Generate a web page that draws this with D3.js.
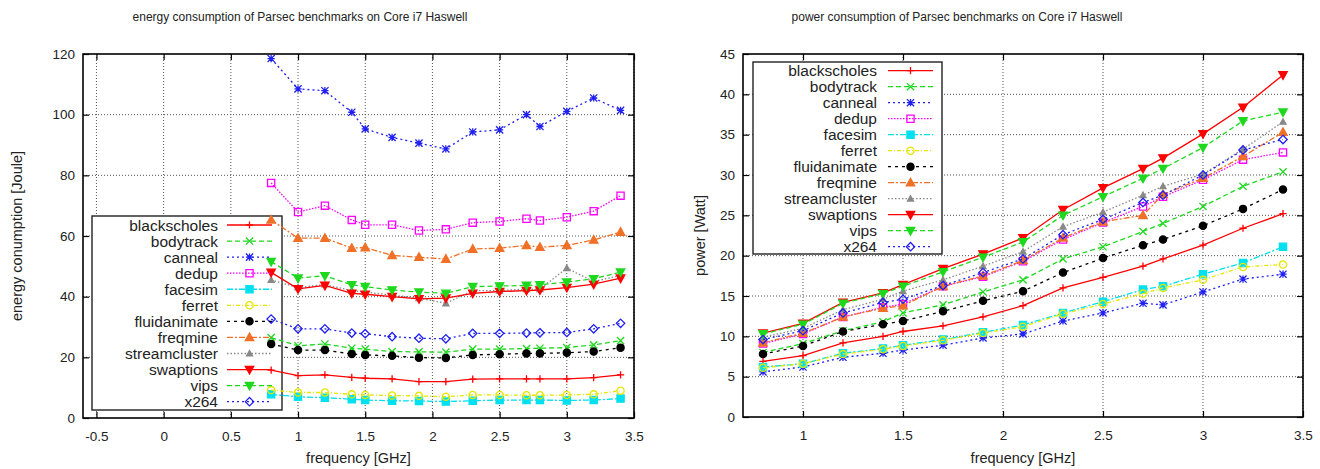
<!DOCTYPE html>
<html>
<head>
<meta charset="utf-8">
<script src="https://cdn.jsdelivr.net/npm/d3@7"></script>
<style>
  body { margin: 0; background: #fff; }
  svg { display: block; font-family: "Liberation Sans", Arial, Helvetica, sans-serif; }
</style>
</head>
<body>
<div class="viewbox"></div>
<script>
// frequencies (GHz) measured for every benchmark
const freqs = [0.8, 1.0, 1.2, 1.4, 1.5, 1.7, 1.9, 2.1, 2.3, 2.5, 2.7, 2.8, 3.0, 3.2, 3.4];
const benchmarks = ["blackscholes", "bodytrack", "canneal", "dedup", "facesim", "ferret",
  "fluidanimate", "freqmine", "streamcluster", "swaptions", "vips", "x264"];

// energy [Joule]
const eBlackscholes = [15.8, 14.0, 14.2, 13.4, 13.1, 12.9, 12.0, 12.0, 12.8, 12.9, 12.9, 12.9, 12.9, 13.3, 14.2];
const eBodytrack = [26.5, 23.8, 24.4, 23.0, 22.7, 21.9, 21.8, 21.7, 22.7, 22.7, 22.9, 23.0, 23.2, 24.1, 25.5];
const eCanneal = [118.5, 108.5, 107.9, 100.8, 95.3, 92.5, 90.6, 88.7, 94.3, 95.0, 100.0, 96.1, 101.1, 105.5, 101.4];
const eDedup = [77.5, 67.9, 70.0, 65.3, 63.7, 63.7, 61.8, 62.2, 64.4, 64.8, 65.7, 65.1, 66.2, 68.2, 73.3];
const eFacesim = [7.8, 7.0, 6.7, 6.2, 5.9, 5.7, 5.6, 5.4, 5.7, 5.9, 5.9, 5.9, 5.8, 5.9, 6.4];
const eFerret = [9.2, 8.4, 8.4, 7.8, 7.6, 7.4, 7.3, 7.0, 7.6, 7.6, 7.5, 7.5, 7.6, 7.8, 9.0];
const eFluidanimate = [24.4, 22.4, 22.4, 21.1, 20.8, 20.5, 19.9, 19.8, 20.8, 21.0, 21.3, 21.3, 21.5, 21.9, 23.2];
const eFreqmine = [65.3, 59.3, 59.3, 56.0, 56.2, 53.6, 53.0, 52.4, 55.7, 56.0, 56.9, 56.3, 56.9, 58.7, 61.3];
const eStreamcluster = [45.5, 43.0, 44.0, 42.0, 41.5, 40.5, 39.5, 37.8, 42.0, 42.0, 42.5, 42.5, 49.4, 45.0, 47.0];
const eSwaptions = [48.0, 42.6, 43.7, 41.1, 40.8, 40.0, 39.3, 39.5, 41.1, 41.7, 42.0, 42.2, 43.0, 44.1, 46.1];
const eVips = [51.6, 46.1, 46.9, 43.9, 43.3, 42.2, 41.5, 41.1, 43.3, 43.5, 43.7, 43.9, 44.8, 45.9, 48.1];
const eX264 = [32.6, 29.4, 29.4, 28.0, 27.8, 26.8, 26.3, 26.1, 27.9, 27.9, 28.0, 28.1, 28.2, 29.4, 31.2];

// power [Watt]
const pBlackscholes = [6.9, 7.6, 9.2, 10.0, 10.6, 11.3, 12.4, 13.8, 16.0, 17.3, 18.7, 19.6, 21.3, 23.4, 25.2];
const pBodytrack = [8.0, 9.1, 10.7, 11.8, 12.9, 13.9, 15.5, 17.0, 19.6, 21.1, 23.0, 24.0, 26.1, 28.6, 30.4];
const pCanneal = [5.6, 6.2, 7.4, 7.9, 8.3, 8.9, 9.8, 10.3, 11.9, 12.9, 14.1, 13.9, 15.5, 17.1, 17.7];
const pDedup = [9.1, 10.3, 12.4, 13.6, 14.0, 16.2, 17.4, 19.3, 22.0, 24.1, 26.1, 27.3, 29.4, 31.9, 32.8];
const pFacesim = [6.2, 6.6, 7.9, 8.5, 8.9, 9.6, 10.5, 11.4, 12.9, 14.3, 15.8, 16.2, 17.7, 19.1, 21.1];
const pFerret = [6.1, 6.6, 7.8, 8.4, 8.8, 9.5, 10.4, 11.2, 12.8, 14.0, 15.3, 16.0, 17.0, 18.6, 18.9];
const pFluidanimate = [7.8, 8.8, 10.6, 11.5, 11.9, 13.1, 14.4, 15.6, 17.9, 19.7, 21.3, 22.0, 23.7, 25.8, 28.2];
const pFreqmine = [9.2, 10.4, 12.4, 13.5, 13.8, 16.2, 17.5, 19.4, 22.2, 24.2, 25.0, 27.6, 29.6, 32.3, 35.3];
const pStreamcluster = [9.9, 11.0, 13.3, 14.6, 15.6, 17.0, 18.7, 20.5, 23.6, 25.4, 27.5, 28.6, 30.1, 33.2, 36.6];
const pSwaptions = [10.4, 11.6, 14.2, 15.4, 16.4, 18.4, 20.2, 22.2, 25.7, 28.4, 30.8, 32.1, 35.1, 38.4, 42.4];
const pVips = [10.3, 11.5, 14.1, 15.3, 16.2, 18.0, 19.8, 21.7, 25.0, 27.3, 29.6, 30.8, 33.4, 36.7, 37.8];
const pX264 = [9.6, 10.7, 12.9, 14.2, 14.6, 16.3, 17.9, 19.6, 22.6, 24.5, 26.6, 27.5, 30.0, 33.1, 34.4];

const energyTicks = [0, 20, 40, 60, 80, 100, 120];
const powerTicks = [0, 5, 10, 15, 20, 25, 30, 35, 40, 45];
const energyFreqTicks = [-0.5, 0, 0.5, 1, 1.5, 2, 2.5, 3, 3.5];
const powerFreqTicks = [1, 1.5, 2, 2.5, 3, 3.5];

const energySeries = [eBlackscholes, eBodytrack, eCanneal, eDedup, eFacesim, eFerret,
  eFluidanimate, eFreqmine, eStreamcluster, eSwaptions, eVips, eX264];
const powerSeries = [pBlackscholes, pBodytrack, pCanneal, pDedup, pFacesim, pFerret,
  pFluidanimate, pFreqmine, pStreamcluster, pSwaptions, pVips, pX264];

// gnuplot-ish line types, one per benchmark
const STYLES = [
  { color: "#ff0000", dash: null, mark: "plus" },
  { color: "#1ed81e", dash: "5,3", mark: "cross" },
  { color: "#2020f0", dash: "2,3", mark: "star" },
  { color: "#ff00ff", dash: "1.5,1.5", mark: "box" },
  { color: "#00e0f0", dash: "6,2,2,2", mark: "fbox" },
  { color: "#e6e600", dash: "4,2,1,2", mark: "circle" },
  { color: "#000000", dash: "3,4", mark: "fcircle" },
  { color: "#f07028", dash: "6,2,2,2", mark: "ftri" },
  { color: "#888888", dash: "1.5,2", mark: "stri" },
  { color: "#ff0000", dash: null, mark: "ftridown" },
  { color: "#1ed81e", dash: "5,3", mark: "ftridown" },
  { color: "#2020f0", dash: "2,3", mark: "diamond" }
];

const W = 1320, H = 469;
const svg = d3.select(".viewbox").append("svg").attr("width", W).attr("height", H);

function marker(g, kind, color, x, y) {
  const s = 3.6;
  let p;
  let filled = false;
  if (kind === "plus") p = `M${-s},0H${s}M0,${-s}V${s}`;
  else if (kind === "cross") p = `M${-s},${-s}L${s},${s}M${-s},${s}L${s},${-s}`;
  else if (kind === "star") p = `M${-s},0H${s}M0,${-s}V${s}M${-s},${-s}L${s},${s}M${-s},${s}L${s},${-s}`;
  else if (kind === "box" || kind === "fbox") { p = `M${-s},${-s}H${s}V${s}H${-s}Z`; filled = kind === "fbox"; }
  else if (kind === "circle" || kind === "fcircle") {
    p = d3.symbol(d3.symbolCircle, Math.PI * s * s)(); filled = kind === "fcircle";
  }
  else if (kind === "ftri") { p = `M0,${-s - 0.8}L${s + 0.6},${s - 0.4}L${-s - 0.6},${s - 0.4}Z`; filled = true; }
  else if (kind === "stri") { p = `M0,${-s + 0.6}L${s - 0.6},${s - 1.2}L${-s + 0.6},${s - 1.2}Z`; filled = true; }
  else if (kind === "ftridown") { p = `M0,${s + 0.8}L${s + 0.6},${-s + 0.4}L${-s - 0.6},${-s + 0.4}Z`; filled = true; }
  else if (kind === "diamond") p = `M0,${-s - 0.6}L${s + 0.6},0L0,${s + 0.6}L${-s - 0.6},0Z`;
  g.append("path")
    .attr("d", p)
    .attr("transform", `translate(${x},${y})`)
    .attr("fill", filled ? color : "none")
    .attr("stroke", color)
    .attr("stroke-width", 1.3);
}

function drawPanel(cfg) {
  const g = svg.append("g");
  const x = d3.scaleLinear().domain(cfg.xDomain).range([cfg.left, cfg.right]);
  const y = d3.scaleLinear().domain(cfg.yDomain).range([cfg.bottom, cfg.top]);

  // dotted grid
  const grid = g.append("g").attr("stroke", "#555").attr("stroke-width", 1).attr("stroke-dasharray", "1,2");
  cfg.xTicks.forEach(t => {
    grid.append("line").attr("x1", x(t)).attr("x2", x(t)).attr("y1", cfg.top).attr("y2", cfg.bottom);
  });
  cfg.yTicks.forEach(t => {
    if (t === cfg.yDomain[0] || t === cfg.yDomain[1]) return;
    grid.append("line").attr("x1", cfg.left).attr("x2", cfg.right).attr("y1", y(t)).attr("y2", y(t));
  });

  // axes via d3 (inward ticks, mirrored)
  const fmt = d => String(d);
  const tl = 6;
  g.append("g").attr("transform", `translate(0,${cfg.bottom})`)
    .call(d3.axisBottom(x).tickValues(cfg.xTicks).tickFormat(fmt).tickSizeInner(-tl).tickSizeOuter(0).tickPadding(13));
  g.append("g").attr("transform", `translate(0,${cfg.top})`)
    .call(d3.axisTop(x).tickValues(cfg.xTicks).tickFormat("").tickSizeInner(-tl).tickSizeOuter(0));
  g.append("g").attr("transform", `translate(${cfg.left},0)`)
    .call(d3.axisLeft(y).tickValues(cfg.yTicks).tickFormat(fmt).tickSizeInner(-tl).tickSizeOuter(0).tickPadding(8));
  g.append("g").attr("transform", `translate(${cfg.right},0)`)
    .call(d3.axisRight(y).tickValues(cfg.yTicks).tickFormat("").tickSizeInner(-tl).tickSizeOuter(0));
  g.selectAll(".domain").remove();
  g.selectAll(".tick line").attr("stroke", "#000").attr("stroke-width", 1.2);
  g.selectAll(".tick text").attr("font-size", 13.5).attr("fill", "#222").attr("font-family", null);

  g.append("rect")
    .attr("x", cfg.left).attr("y", cfg.top)
    .attr("width", cfg.right - cfg.left).attr("height", cfg.bottom - cfg.top)
    .attr("fill", "none").attr("stroke", "#000").attr("stroke-width", 1.6);

  // titles
  g.append("text").attr("x", cfg.titleX).attr("y", 21).attr("text-anchor", "middle")
    .attr("font-size", 12).attr("fill", "#222").text(cfg.title);
  g.append("text").attr("x", (cfg.left + cfg.right) / 2).attr("y", 463).attr("text-anchor", "middle")
    .attr("font-size", 14.5).attr("fill", "#222").text("frequency [GHz]");
  g.append("text").attr("transform", `translate(${cfg.yLabelX},${(cfg.top + cfg.bottom) / 2}) rotate(-90)`)
    .attr("text-anchor", "middle").attr("font-size", 14.5).attr("fill", "#222").text(cfg.yLabel);

  // opaque key box
  const lg = cfg.legend;
  g.append("rect").attr("x", lg.x0).attr("y", lg.y0)
    .attr("width", lg.x1 - lg.x0).attr("height", lg.y1 - lg.y0)
    .attr("fill", "#fff").attr("stroke", "#222").attr("stroke-width", 1.4);

  const line = d3.line().x((d, i) => x(freqs[i])).y(d => y(d));
  cfg.series.forEach((vals, k) => {
    const st = STYLES[k];
    g.append("path").datum(vals)
      .attr("d", line)
      .attr("fill", "none")
      .attr("stroke", st.color)
      .attr("stroke-width", 1.3)
      .attr("stroke-dasharray", st.dash);
    vals.forEach((v, i) => marker(g, st.mark, st.color, x(freqs[i]), y(v)));
  });

  // key entries
  benchmarks.forEach((name, k) => {
    const st = STYLES[k];
    const ry = lg.row0 + k * lg.step;
    g.append("text").attr("x", lg.textX).attr("y", ry + 5.5).attr("text-anchor", "end")
      .attr("font-size", 15.5).attr("fill", "#222").text(name);
    g.append("line").attr("x1", lg.lx0).attr("x2", lg.lx1).attr("y1", ry).attr("y2", ry)
      .attr("stroke", st.color).attr("stroke-width", 1.3).attr("stroke-dasharray", st.dash);
    marker(g, st.mark, st.color, (lg.lx0 + lg.lx1) / 2, ry);
  });
}

drawPanel({
  left: 83, right: 634, top: 54, bottom: 418,
  xDomain: [-0.6, 3.5], yDomain: [0, 120],
  xTicks: energyFreqTicks, yTicks: energyTicks,
  title: "energy consumption of Parsec benchmarks on Core i7 Haswell",
  titleX: 300,
  yLabel: "energy conumption [Joule]", yLabelX: 22,
  series: energySeries,
  legend: { x0: 92, x1: 282, y0: 216, y1: 410, row0: 225, step: 16.06, textX: 218, lx0: 227, lx1: 272 }
});

drawPanel({
  left: 743, right: 1303, top: 54, bottom: 417,
  xDomain: [0.7, 3.5], yDomain: [0, 45],
  xTicks: powerFreqTicks, yTicks: powerTicks,
  title: "power consumption of Parsec benchmarks on Core i7 Haswell",
  titleX: 957,
  yLabel: "power [Watt]", yLabelX: 705,
  series: powerSeries,
  legend: { x0: 753, x1: 942, y0: 62, y1: 254, row0: 70.7, step: 16, textX: 877, lx0: 888, lx1: 933 }
});
</script>
</body>
</html>
